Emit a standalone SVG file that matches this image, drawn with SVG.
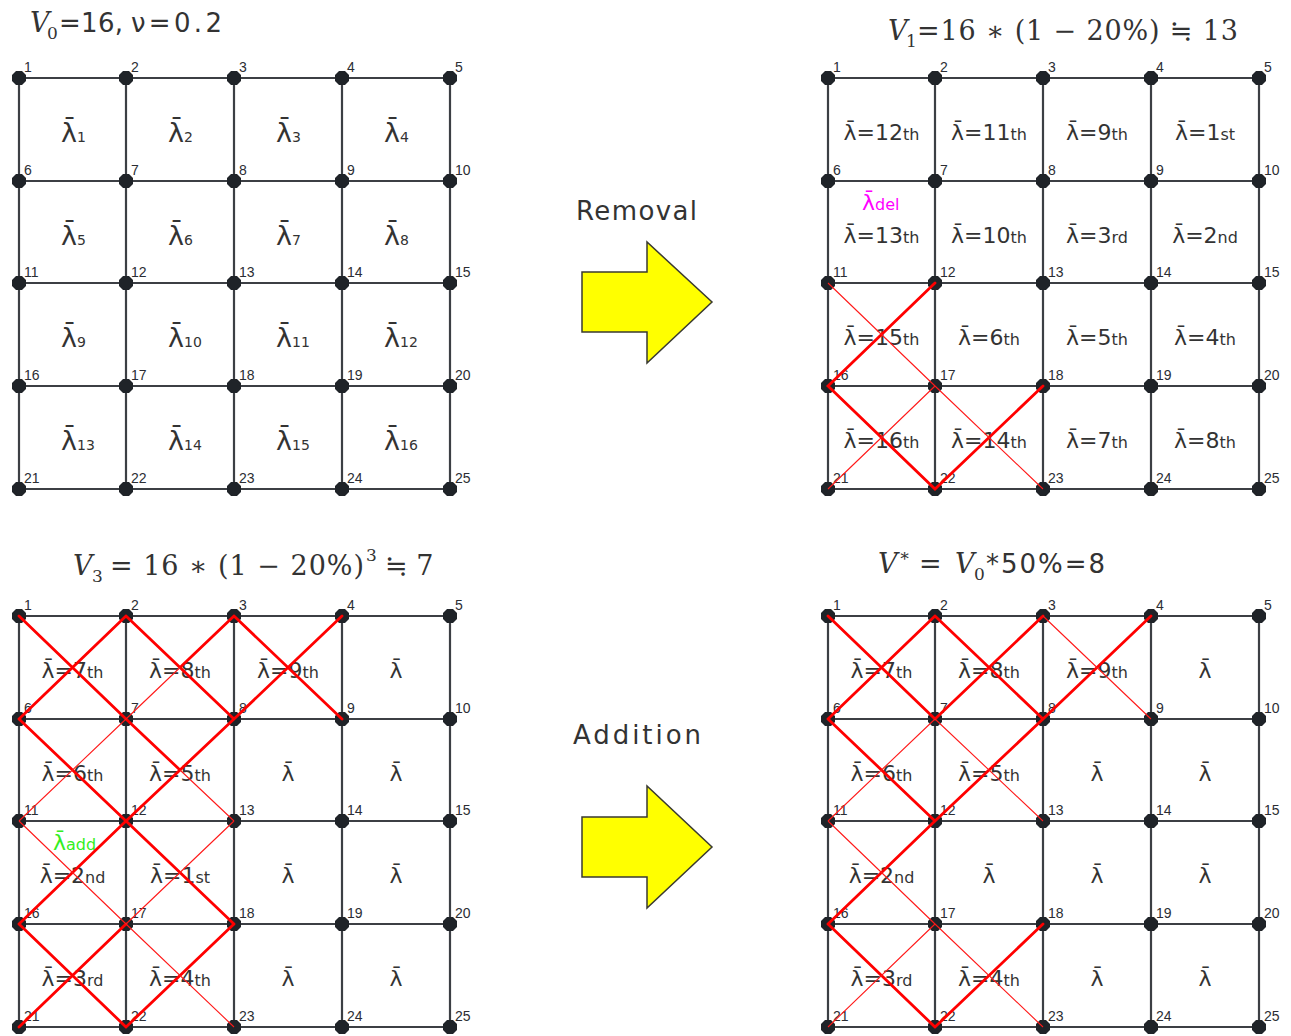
<svg xmlns="http://www.w3.org/2000/svg" xmlns:xlink="http://www.w3.org/1999/xlink" width="1291" height="1036" viewBox="0 0 1291 1036">
<defs>
<style>
.gl{stroke:#3c3f44;stroke-width:2.2;fill:none}
.dot{fill:#1f2328}
.nl{font-family:"Liberation Sans",Arial,sans-serif;font-size:14px;fill:#2b2d33}
.lt{font-family:"DejaVu Sans",sans-serif;font-size:27px;fill:#333}
.lt .s{font-size:14px}
.lb{font-family:"DejaVu Sans",sans-serif;font-size:22px;fill:#333;text-anchor:middle}
.lb .s{font-size:16px}
.ld{font-family:"DejaVu Sans",sans-serif;font-size:22px}
.ld .s{font-size:16px}
.rk{stroke:#ff0000;stroke-width:2.8;stroke-linecap:round;fill:none}
.rn{stroke:#ff1a1a;stroke-width:1.1;fill:none}
.mt{font-family:"DejaVu Serif",serif;font-size:27px;fill:#333}
.it{font-style:italic}
.sm{font-size:17px}
.sd{font-family:"DejaVu Sans",sans-serif;font-size:26px;fill:#333}
.arr{fill:#ffff00;stroke:#3a3a30;stroke-width:1.5}
</style>
<path id="dot" class="dot" d="M-3,-7H3L7,-3V3L3,7H-3L-7,3V-3Z"/>
<path id="grid" class="gl" d="M0,0H431M0,103H431M0,205H431M0,308H431M0,411H431M0,0V411M107,0V411M215,0V411M323,0V411M431,0V411"/>
</defs>
<rect width="1291" height="1036" fill="#ffffff"/>

<!-- Titles -->
<g id="title-v0">
<text class="mt"><tspan class="it" x="30" y="32">V</tspan><tspan class="sm" x="47" y="39">0</tspan></text>
<text class="sd" x="59" y="32" textLength="64">=16,</text>
<text class="sd" x="131" y="32" textLength="91">ν=0.2</text>
</g>
<g id="title-v1">
<text class="mt"><tspan class="it" x="888" y="40">V</tspan><tspan class="sm" x="906" y="47">1</tspan></text>
<text class="mt" x="917" y="40" textLength="321">=16 ∗ (1 − 20%) ≒ 13</text>
</g>
<g id="title-v3">
<text class="mt"><tspan class="it" x="73" y="575">V</tspan><tspan class="sm" x="92" y="582">3</tspan></text>
<text class="mt" x="110" y="575" textLength="254">= 16 ∗ (1 − 20%)</text>
<text class="mt"><tspan class="sm" x="366" y="561">3</tspan></text>
<text class="mt" x="385" y="575">≒ 7</text>
</g>
<g id="title-vstar">
<text class="mt"><tspan class="it" x="878" y="573">V</tspan><tspan class="sm" x="899" y="561">∗</tspan><tspan x="919" y="573">=</tspan><tspan class="it" x="955" y="573">V</tspan><tspan class="sm" x="974" y="580">0</tspan></text>
<text class="sd" x="986" y="573" textLength="119">*50%=8</text>
</g>

<!-- Arrows -->
<g id="arrow-removal">
<text class="sd" x="576" y="220" textLength="121">Removal</text>
<polygon class="arr" points="582,272 647,272 647,242 712,302 647,363 647,332 582,332"/>
</g>
<g id="arrow-addition">
<text class="sd" x="573" y="744" textLength="128">Addition</text>
<polygon class="arr" points="582,817 647,817 647,786 712,847 647,908 647,877 582,877"/>
</g>

<!-- Panel TL -->
<g id="panel-tl" transform="translate(19,78)">
<g id="tl-connectors"><use href="#grid"/></g>
<g id="tl-n1"><use href="#dot" x="0" y="0"/><text class="nl" x="5" y="-6">1</text></g>
<g id="tl-n2"><use href="#dot" x="107" y="0"/><text class="nl" x="112" y="-6">2</text></g>
<g id="tl-n3"><use href="#dot" x="215" y="0"/><text class="nl" x="220" y="-6">3</text></g>
<g id="tl-n4"><use href="#dot" x="323" y="0"/><text class="nl" x="328" y="-6">4</text></g>
<g id="tl-n5"><use href="#dot" x="431" y="0"/><text class="nl" x="436" y="-6">5</text></g>
<g id="tl-n6"><use href="#dot" x="0" y="103"/><text class="nl" x="5" y="97">6</text></g>
<g id="tl-n7"><use href="#dot" x="107" y="103"/><text class="nl" x="112" y="97">7</text></g>
<g id="tl-n8"><use href="#dot" x="215" y="103"/><text class="nl" x="220" y="97">8</text></g>
<g id="tl-n9"><use href="#dot" x="323" y="103"/><text class="nl" x="328" y="97">9</text></g>
<g id="tl-n10"><use href="#dot" x="431" y="103"/><text class="nl" x="436" y="97">10</text></g>
<g id="tl-n11"><use href="#dot" x="0" y="205"/><text class="nl" x="5" y="199">11</text></g>
<g id="tl-n12"><use href="#dot" x="107" y="205"/><text class="nl" x="112" y="199">12</text></g>
<g id="tl-n13"><use href="#dot" x="215" y="205"/><text class="nl" x="220" y="199">13</text></g>
<g id="tl-n14"><use href="#dot" x="323" y="205"/><text class="nl" x="328" y="199">14</text></g>
<g id="tl-n15"><use href="#dot" x="431" y="205"/><text class="nl" x="436" y="199">15</text></g>
<g id="tl-n16"><use href="#dot" x="0" y="308"/><text class="nl" x="5" y="302">16</text></g>
<g id="tl-n17"><use href="#dot" x="107" y="308"/><text class="nl" x="112" y="302">17</text></g>
<g id="tl-n18"><use href="#dot" x="215" y="308"/><text class="nl" x="220" y="302">18</text></g>
<g id="tl-n19"><use href="#dot" x="323" y="308"/><text class="nl" x="328" y="302">19</text></g>
<g id="tl-n20"><use href="#dot" x="431" y="308"/><text class="nl" x="436" y="302">20</text></g>
<g id="tl-n21"><use href="#dot" x="0" y="411"/><text class="nl" x="5" y="405">21</text></g>
<g id="tl-n22"><use href="#dot" x="107" y="411"/><text class="nl" x="112" y="405">22</text></g>
<g id="tl-n23"><use href="#dot" x="215" y="411"/><text class="nl" x="220" y="405">23</text></g>
<g id="tl-n24"><use href="#dot" x="323" y="411"/><text class="nl" x="328" y="405">24</text></g>
<g id="tl-n25"><use href="#dot" x="431" y="411"/><text class="nl" x="436" y="405">25</text></g>
<g id="tl-cells">
<text class="lt" x="42" y="64">λ̄<tspan class="s">1</tspan></text>
<text class="lt" x="149" y="64">λ̄<tspan class="s">2</tspan></text>
<text class="lt" x="257" y="64">λ̄<tspan class="s">3</tspan></text>
<text class="lt" x="365" y="64">λ̄<tspan class="s">4</tspan></text>
<text class="lt" x="42" y="167">λ̄<tspan class="s">5</tspan></text>
<text class="lt" x="149" y="167">λ̄<tspan class="s">6</tspan></text>
<text class="lt" x="257" y="167">λ̄<tspan class="s">7</tspan></text>
<text class="lt" x="365" y="167">λ̄<tspan class="s">8</tspan></text>
<text class="lt" x="42" y="269">λ̄<tspan class="s">9</tspan></text>
<text class="lt" x="149" y="269">λ̄<tspan class="s">10</tspan></text>
<text class="lt" x="257" y="269">λ̄<tspan class="s">11</tspan></text>
<text class="lt" x="365" y="269">λ̄<tspan class="s">12</tspan></text>
<text class="lt" x="42" y="372">λ̄<tspan class="s">13</tspan></text>
<text class="lt" x="149" y="372">λ̄<tspan class="s">14</tspan></text>
<text class="lt" x="257" y="372">λ̄<tspan class="s">15</tspan></text>
<text class="lt" x="365" y="372">λ̄<tspan class="s">16</tspan></text>
</g>
</g>

<!-- Panel TR -->
<g id="panel-tr" transform="translate(828,78)">
<g id="tr-connectors"><use href="#grid"/></g>
<g id="tr-n1"><use href="#dot" x="0" y="0"/><text class="nl" x="5" y="-6">1</text></g>
<g id="tr-n2"><use href="#dot" x="107" y="0"/><text class="nl" x="112" y="-6">2</text></g>
<g id="tr-n3"><use href="#dot" x="215" y="0"/><text class="nl" x="220" y="-6">3</text></g>
<g id="tr-n4"><use href="#dot" x="323" y="0"/><text class="nl" x="328" y="-6">4</text></g>
<g id="tr-n5"><use href="#dot" x="431" y="0"/><text class="nl" x="436" y="-6">5</text></g>
<g id="tr-n6"><use href="#dot" x="0" y="103"/><text class="nl" x="5" y="97">6</text></g>
<g id="tr-n7"><use href="#dot" x="107" y="103"/><text class="nl" x="112" y="97">7</text></g>
<g id="tr-n8"><use href="#dot" x="215" y="103"/><text class="nl" x="220" y="97">8</text></g>
<g id="tr-n9"><use href="#dot" x="323" y="103"/><text class="nl" x="328" y="97">9</text></g>
<g id="tr-n10"><use href="#dot" x="431" y="103"/><text class="nl" x="436" y="97">10</text></g>
<g id="tr-n11"><use href="#dot" x="0" y="205"/><text class="nl" x="5" y="199">11</text></g>
<g id="tr-n12"><use href="#dot" x="107" y="205"/><text class="nl" x="112" y="199">12</text></g>
<g id="tr-n13"><use href="#dot" x="215" y="205"/><text class="nl" x="220" y="199">13</text></g>
<g id="tr-n14"><use href="#dot" x="323" y="205"/><text class="nl" x="328" y="199">14</text></g>
<g id="tr-n15"><use href="#dot" x="431" y="205"/><text class="nl" x="436" y="199">15</text></g>
<g id="tr-n16"><use href="#dot" x="0" y="308"/><text class="nl" x="5" y="302">16</text></g>
<g id="tr-n17"><use href="#dot" x="107" y="308"/><text class="nl" x="112" y="302">17</text></g>
<g id="tr-n18"><use href="#dot" x="215" y="308"/><text class="nl" x="220" y="302">18</text></g>
<g id="tr-n19"><use href="#dot" x="323" y="308"/><text class="nl" x="328" y="302">19</text></g>
<g id="tr-n20"><use href="#dot" x="431" y="308"/><text class="nl" x="436" y="302">20</text></g>
<g id="tr-n21"><use href="#dot" x="0" y="411"/><text class="nl" x="5" y="405">21</text></g>
<g id="tr-n22"><use href="#dot" x="107" y="411"/><text class="nl" x="112" y="405">22</text></g>
<g id="tr-n23"><use href="#dot" x="215" y="411"/><text class="nl" x="220" y="405">23</text></g>
<g id="tr-n24"><use href="#dot" x="323" y="411"/><text class="nl" x="328" y="405">24</text></g>
<g id="tr-n25"><use href="#dot" x="431" y="411"/><text class="nl" x="436" y="405">25</text></g>
<g id="tr-cells">
<text class="lb" x="53.5" y="62">λ̄=12<tspan class="s">th</tspan></text>
<text class="lb" x="161" y="62">λ̄=11<tspan class="s">th</tspan></text>
<text class="lb" x="269" y="62">λ̄=9<tspan class="s">th</tspan></text>
<text class="lb" x="377" y="62">λ̄=1<tspan class="s">st</tspan></text>
<text class="lb" x="53.5" y="165">λ̄=13<tspan class="s">th</tspan></text>
<text class="lb" x="161" y="165">λ̄=10<tspan class="s">th</tspan></text>
<text class="lb" x="269" y="165">λ̄=3<tspan class="s">rd</tspan></text>
<text class="lb" x="377" y="165">λ̄=2<tspan class="s">nd</tspan></text>
<text class="lb" x="53.5" y="267">λ̄=15<tspan class="s">th</tspan></text>
<text class="lb" x="161" y="267">λ̄=6<tspan class="s">th</tspan></text>
<text class="lb" x="269" y="267">λ̄=5<tspan class="s">th</tspan></text>
<text class="lb" x="377" y="267">λ̄=4<tspan class="s">th</tspan></text>
<text class="lb" x="53.5" y="370">λ̄=16<tspan class="s">th</tspan></text>
<text class="lb" x="161" y="370">λ̄=14<tspan class="s">th</tspan></text>
<text class="lb" x="269" y="370">λ̄=7<tspan class="s">th</tspan></text>
<text class="lb" x="377" y="370">λ̄=8<tspan class="s">th</tspan></text>
<text class="ld" x="34" y="132" fill="#ff00ff">λ̄<tspan class="s">del</tspan></text>
</g>
<g id="tr-marks">
<path class="rk" d="M107,205L0,308L107,411L215,308"/>
<path class="rn" d="M0,205L107,308M107,308L0,411M107,308L215,411"/>
</g>
</g>

<!-- Panel BL -->
<g id="panel-bl" transform="translate(19,616)">
<g id="bl-connectors"><use href="#grid"/></g>
<g id="bl-n1"><use href="#dot" x="0" y="0"/><text class="nl" x="5" y="-6">1</text></g>
<g id="bl-n2"><use href="#dot" x="107" y="0"/><text class="nl" x="112" y="-6">2</text></g>
<g id="bl-n3"><use href="#dot" x="215" y="0"/><text class="nl" x="220" y="-6">3</text></g>
<g id="bl-n4"><use href="#dot" x="323" y="0"/><text class="nl" x="328" y="-6">4</text></g>
<g id="bl-n5"><use href="#dot" x="431" y="0"/><text class="nl" x="436" y="-6">5</text></g>
<g id="bl-n6"><use href="#dot" x="0" y="103"/><text class="nl" x="5" y="97">6</text></g>
<g id="bl-n7"><use href="#dot" x="107" y="103"/><text class="nl" x="112" y="97">7</text></g>
<g id="bl-n8"><use href="#dot" x="215" y="103"/><text class="nl" x="220" y="97">8</text></g>
<g id="bl-n9"><use href="#dot" x="323" y="103"/><text class="nl" x="328" y="97">9</text></g>
<g id="bl-n10"><use href="#dot" x="431" y="103"/><text class="nl" x="436" y="97">10</text></g>
<g id="bl-n11"><use href="#dot" x="0" y="205"/><text class="nl" x="5" y="199">11</text></g>
<g id="bl-n12"><use href="#dot" x="107" y="205"/><text class="nl" x="112" y="199">12</text></g>
<g id="bl-n13"><use href="#dot" x="215" y="205"/><text class="nl" x="220" y="199">13</text></g>
<g id="bl-n14"><use href="#dot" x="323" y="205"/><text class="nl" x="328" y="199">14</text></g>
<g id="bl-n15"><use href="#dot" x="431" y="205"/><text class="nl" x="436" y="199">15</text></g>
<g id="bl-n16"><use href="#dot" x="0" y="308"/><text class="nl" x="5" y="302">16</text></g>
<g id="bl-n17"><use href="#dot" x="107" y="308"/><text class="nl" x="112" y="302">17</text></g>
<g id="bl-n18"><use href="#dot" x="215" y="308"/><text class="nl" x="220" y="302">18</text></g>
<g id="bl-n19"><use href="#dot" x="323" y="308"/><text class="nl" x="328" y="302">19</text></g>
<g id="bl-n20"><use href="#dot" x="431" y="308"/><text class="nl" x="436" y="302">20</text></g>
<g id="bl-n21"><use href="#dot" x="0" y="411"/><text class="nl" x="5" y="405">21</text></g>
<g id="bl-n22"><use href="#dot" x="107" y="411"/><text class="nl" x="112" y="405">22</text></g>
<g id="bl-n23"><use href="#dot" x="215" y="411"/><text class="nl" x="220" y="405">23</text></g>
<g id="bl-n24"><use href="#dot" x="323" y="411"/><text class="nl" x="328" y="405">24</text></g>
<g id="bl-n25"><use href="#dot" x="431" y="411"/><text class="nl" x="436" y="405">25</text></g>
<g id="bl-cells">
<text class="lb" x="53.5" y="62">λ̄=7<tspan class="s">th</tspan></text>
<text class="lb" x="161" y="62">λ̄=8<tspan class="s">th</tspan></text>
<text class="lb" x="269" y="62">λ̄=9<tspan class="s">th</tspan></text>
<text class="lb" x="377" y="62">λ̄</text>
<text class="lb" x="53.5" y="165">λ̄=6<tspan class="s">th</tspan></text>
<text class="lb" x="161" y="165">λ̄=5<tspan class="s">th</tspan></text>
<text class="lb" x="269" y="165">λ̄</text>
<text class="lb" x="377" y="165">λ̄</text>
<text class="lb" x="53.5" y="267">λ̄=2<tspan class="s">nd</tspan></text>
<text class="lb" x="161" y="267">λ̄=1<tspan class="s">st</tspan></text>
<text class="lb" x="269" y="267">λ̄</text>
<text class="lb" x="377" y="267">λ̄</text>
<text class="lb" x="53.5" y="370">λ̄=3<tspan class="s">rd</tspan></text>
<text class="lb" x="161" y="370">λ̄=4<tspan class="s">th</tspan></text>
<text class="lb" x="269" y="370">λ̄</text>
<text class="lb" x="377" y="370">λ̄</text>
<text class="ld" x="34" y="234" fill="#33ee22">λ̄<tspan class="s">add</tspan></text>
</g>
<g id="bl-marks">
<path class="rk" d="M0,0L107,103M107,0L0,103M107,0L215,103M215,0L323,103M323,0L215,103M215,0L161,51.5M0,103L107,205M215,103L107,205M107,103L161,154M107,205L0,308M107,205L215,308M0,308L107,411M107,308L0,411M215,308L107,411"/>
<path class="rn" d="M161,51.5L107,103M161,154L215,205M107,103L0,205M0,205L107,308M215,205L107,308M107,308L215,411"/>
</g>
</g>

<!-- Panel BR -->
<g id="panel-br" transform="translate(828,616)">
<g id="br-connectors"><use href="#grid"/></g>
<g id="br-n1"><use href="#dot" x="0" y="0"/><text class="nl" x="5" y="-6">1</text></g>
<g id="br-n2"><use href="#dot" x="107" y="0"/><text class="nl" x="112" y="-6">2</text></g>
<g id="br-n3"><use href="#dot" x="215" y="0"/><text class="nl" x="220" y="-6">3</text></g>
<g id="br-n4"><use href="#dot" x="323" y="0"/><text class="nl" x="328" y="-6">4</text></g>
<g id="br-n5"><use href="#dot" x="431" y="0"/><text class="nl" x="436" y="-6">5</text></g>
<g id="br-n6"><use href="#dot" x="0" y="103"/><text class="nl" x="5" y="97">6</text></g>
<g id="br-n7"><use href="#dot" x="107" y="103"/><text class="nl" x="112" y="97">7</text></g>
<g id="br-n8"><use href="#dot" x="215" y="103"/><text class="nl" x="220" y="97">8</text></g>
<g id="br-n9"><use href="#dot" x="323" y="103"/><text class="nl" x="328" y="97">9</text></g>
<g id="br-n10"><use href="#dot" x="431" y="103"/><text class="nl" x="436" y="97">10</text></g>
<g id="br-n11"><use href="#dot" x="0" y="205"/><text class="nl" x="5" y="199">11</text></g>
<g id="br-n12"><use href="#dot" x="107" y="205"/><text class="nl" x="112" y="199">12</text></g>
<g id="br-n13"><use href="#dot" x="215" y="205"/><text class="nl" x="220" y="199">13</text></g>
<g id="br-n14"><use href="#dot" x="323" y="205"/><text class="nl" x="328" y="199">14</text></g>
<g id="br-n15"><use href="#dot" x="431" y="205"/><text class="nl" x="436" y="199">15</text></g>
<g id="br-n16"><use href="#dot" x="0" y="308"/><text class="nl" x="5" y="302">16</text></g>
<g id="br-n17"><use href="#dot" x="107" y="308"/><text class="nl" x="112" y="302">17</text></g>
<g id="br-n18"><use href="#dot" x="215" y="308"/><text class="nl" x="220" y="302">18</text></g>
<g id="br-n19"><use href="#dot" x="323" y="308"/><text class="nl" x="328" y="302">19</text></g>
<g id="br-n20"><use href="#dot" x="431" y="308"/><text class="nl" x="436" y="302">20</text></g>
<g id="br-n21"><use href="#dot" x="0" y="411"/><text class="nl" x="5" y="405">21</text></g>
<g id="br-n22"><use href="#dot" x="107" y="411"/><text class="nl" x="112" y="405">22</text></g>
<g id="br-n23"><use href="#dot" x="215" y="411"/><text class="nl" x="220" y="405">23</text></g>
<g id="br-n24"><use href="#dot" x="323" y="411"/><text class="nl" x="328" y="405">24</text></g>
<g id="br-n25"><use href="#dot" x="431" y="411"/><text class="nl" x="436" y="405">25</text></g>
<g id="br-cells">
<text class="lb" x="53.5" y="62">λ̄=7<tspan class="s">th</tspan></text>
<text class="lb" x="161" y="62">λ̄=8<tspan class="s">th</tspan></text>
<text class="lb" x="269" y="62">λ̄=9<tspan class="s">th</tspan></text>
<text class="lb" x="377" y="62">λ̄</text>
<text class="lb" x="53.5" y="165">λ̄=6<tspan class="s">th</tspan></text>
<text class="lb" x="161" y="165">λ̄=5<tspan class="s">th</tspan></text>
<text class="lb" x="269" y="165">λ̄</text>
<text class="lb" x="377" y="165">λ̄</text>
<text class="lb" x="53.5" y="267">λ̄=2<tspan class="s">nd</tspan></text>
<text class="lb" x="161" y="267">λ̄</text>
<text class="lb" x="269" y="267">λ̄</text>
<text class="lb" x="377" y="267">λ̄</text>
<text class="lb" x="53.5" y="370">λ̄=3<tspan class="s">rd</tspan></text>
<text class="lb" x="161" y="370">λ̄=4<tspan class="s">th</tspan></text>
<text class="lb" x="269" y="370">λ̄</text>
<text class="lb" x="377" y="370">λ̄</text>
</g>
<g id="br-marks">
<path class="rk" d="M0,0L107,103M107,0L0,103M107,0L215,103M215,0L107,103M323,0L215,103M0,103L107,205M215,103L107,205M107,205L0,308M0,308L107,411M215,308L107,411"/>
<path class="rn" d="M215,0L323,103M107,103L0,205M107,103L215,205M0,205L107,308M107,308L0,411M107,308L215,411"/>
</g>
</g>
</svg>
